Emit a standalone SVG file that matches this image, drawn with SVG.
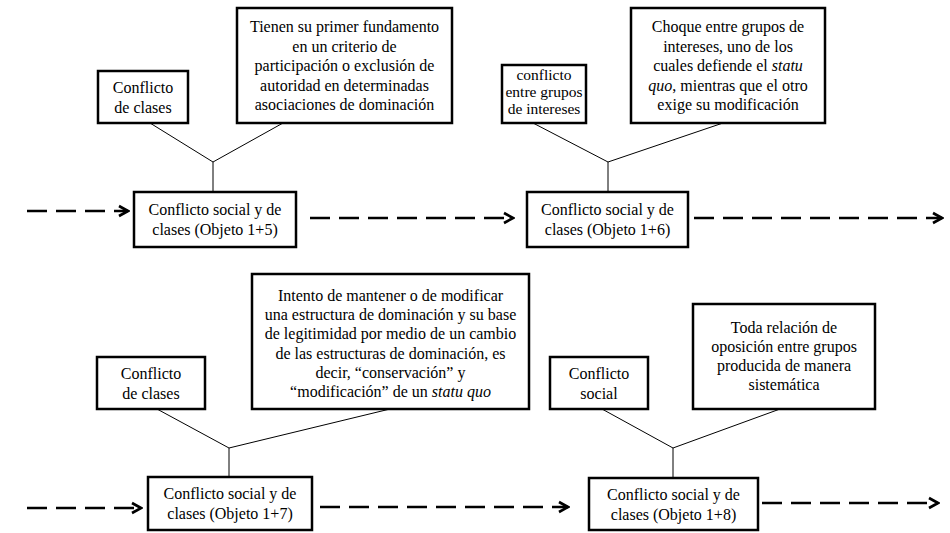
<svg xmlns="http://www.w3.org/2000/svg" width="950" height="533" viewBox="0 0 950 533">
  <style>
    .box { fill: #ffffff; stroke: #000000; stroke-width: 2.5; }
    .txt { font-size: 16px; fill: #000000; text-anchor: middle; }
    .sm { font-size: 15.5px; }
    .it { font-style: italic; }
    .link { stroke: #000000; stroke-width: 1; fill: none; }
    .flow { stroke: #000000; stroke-width: 2.5; fill: none; stroke-dasharray: 20 9; marker-end: url(#chev); }
  </style>
  <defs>
    <marker id="chev" markerUnits="userSpaceOnUse" markerWidth="14" markerHeight="14" viewBox="0 0 14 14" refX="12" refY="7" orient="auto">
      <path d="M3,2 L12,7 L3,12" fill="none" stroke="#000000" stroke-width="2.6" stroke-linejoin="miter"/>
    </marker>
  </defs>
  <rect width="950" height="533" fill="#ffffff"/>

  <!-- connectors -->
  <g id="connectors">
    <polyline class="link" points="150,123 213,162 283,123"/>
    <line class="link" x1="213" y1="162" x2="213" y2="192"/>
    <polyline class="link" points="533,123 608,162 723,123"/>
    <line class="link" x1="608" y1="162" x2="608" y2="192"/>
    <polyline class="link" points="157,409 229,448 390,409"/>
    <line class="link" x1="229" y1="448" x2="229" y2="477"/>
    <polyline class="link" points="602,409 673,448 780,409"/>
    <line class="link" x1="673" y1="448" x2="673" y2="478"/>

    <line class="flow" x1="27" y1="211" x2="128" y2="211"/>
    <line class="flow" x1="310" y1="218" x2="513" y2="218"/>
    <line class="flow" x1="694" y1="218" x2="942" y2="218"/>
    <line class="flow" x1="27" y1="508" x2="141" y2="508"/>
    <line class="flow" x1="320" y1="507" x2="568" y2="507"/>
    <line class="flow" x1="762" y1="503" x2="938" y2="503"/>
  </g>

  <g font-family="'Liberation Serif', 'Times New Roman', 'DejaVu Serif', serif">
  <!-- row 1 -->
  <g id="clases1">
    <rect class="box" x="98" y="71" width="90" height="52"/>
    <text class="txt" x="143" y="93">Conflicto</text>
    <text class="txt" x="143" y="113">de clases</text>
  </g>
  <g id="fundamento">
    <rect class="box" x="237" y="8" width="215" height="115"/>
    <text class="txt" x="344.5" y="32">Tienen su primer fundamento</text>
    <text class="txt" x="344.5" y="51.5">en un criterio de</text>
    <text class="txt" x="344.5" y="71">participación o exclusión de</text>
    <text class="txt" x="344.5" y="90.5">autoridad en determinadas</text>
    <text class="txt" x="344.5" y="110">asociaciones de dominación</text>
  </g>
  <g id="objeto5">
    <rect class="box" x="134" y="192" width="162" height="55"/>
    <text class="txt" x="215" y="215">Conflicto social y de</text>
    <text class="txt" x="215" y="235">clases (Objeto 1+5)</text>
  </g>

  <g id="intereses">
    <rect class="box" x="502" y="65" width="84" height="58"/>
    <text class="txt sm" x="544" y="80">conflicto</text>
    <text class="txt sm" x="544" y="97">entre grupos</text>
    <text class="txt sm" x="544" y="114">de intereses</text>
  </g>
  <g id="choque">
    <rect class="box" x="631" y="8" width="194" height="115"/>
    <text class="txt" x="728" y="32">Choque entre grupos de</text>
    <text class="txt" x="728" y="51.5">intereses, uno de los</text>
    <text class="txt" x="728" y="71">cuales defiende el <tspan class="it">statu</tspan></text>
    <text class="txt" x="728" y="90.5"><tspan class="it">quo</tspan>, mientras que el otro</text>
    <text class="txt" x="728" y="110">exige su modificación</text>
  </g>
  <g id="objeto6">
    <rect class="box" x="527" y="192" width="161" height="55"/>
    <text class="txt" x="607.5" y="215">Conflicto social y de</text>
    <text class="txt" x="607.5" y="235">clases (Objeto 1+6)</text>
  </g>

  <!-- row 2 -->
  <g id="clases2">
    <rect class="box" x="97" y="357" width="108" height="52"/>
    <text class="txt" x="151" y="379">Conflicto</text>
    <text class="txt" x="151" y="399">de clases</text>
  </g>
  <g id="intento">
    <rect class="box" x="252" y="274" width="277" height="135"/>
    <text class="txt" x="390.5" y="301">Intento de mantener o de modificar</text>
    <text class="txt" x="390.5" y="320.2">una estructura de dominación y su base</text>
    <text class="txt" x="390.5" y="339.4">de legitimidad por medio de un cambio</text>
    <text class="txt" x="390.5" y="358.6">de las estructuras de dominación, es</text>
    <text class="txt" x="390.5" y="377.8">decir, “conservación” y</text>
    <text class="txt" x="390.5" y="397">“modificación” de un <tspan class="it">statu quo</tspan></text>
  </g>
  <g id="objeto7">
    <rect class="box" x="148" y="477" width="164" height="53"/>
    <text class="txt" x="230" y="499">Conflicto social y de</text>
    <text class="txt" x="230" y="519">clases (Objeto 1+7)</text>
  </g>

  <g id="social">
    <rect class="box" x="550" y="357" width="98" height="52"/>
    <text class="txt" x="599" y="379">Conflicto</text>
    <text class="txt" x="599" y="399">social</text>
  </g>
  <g id="oposicion">
    <rect class="box" x="693" y="304" width="182" height="105"/>
    <text class="txt" x="784" y="333">Toda relación de</text>
    <text class="txt" x="784" y="352">oposición entre grupos</text>
    <text class="txt" x="784" y="371">producida de manera</text>
    <text class="txt" x="784" y="390">sistemática</text>
  </g>
  <g id="objeto8">
    <rect class="box" x="589" y="478" width="169" height="52"/>
    <text class="txt" x="673.5" y="500">Conflicto social y de</text>
    <text class="txt" x="673.5" y="520">clases (Objeto 1+8)</text>
  </g>
  </g>
</svg>
